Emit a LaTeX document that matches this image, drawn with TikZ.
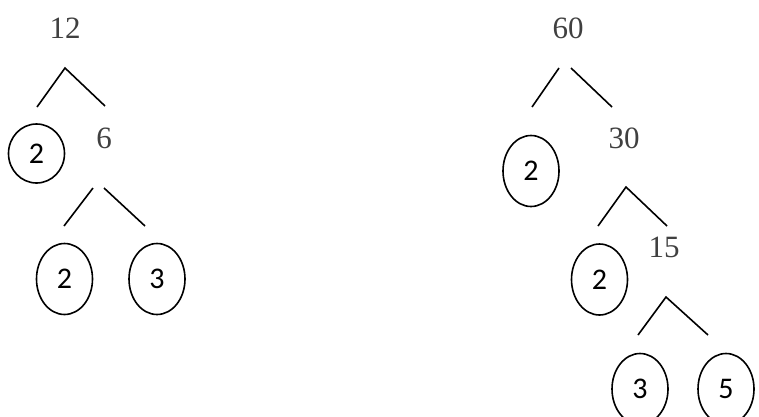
\documentclass[tikz,border=0pt]{standalone}
\usepackage{fontspec}
\usetikzlibrary{shapes.geometric}
\setmainfont{Liberation Serif}
\newfontfamily\circfont{Carlito}
\begin{document}
\begin{tikzpicture}[x=1pt,y=-1pt,
  num/.style={text=black!75, font=\fontsize{31}{34}\selectfont, inner sep=0pt},
  fac/.style={draw, ellipse, line width=1.6pt, minimum width=56pt, minimum height=71pt, inner sep=0pt, font=\circfont\fontsize{30}{34}\selectfont},
  br/.style={line width=1.6pt}]
\useasboundingbox (0,0) rectangle (759,416);
% left tree
\node[num] (n12) at (65,28) {12};
\coordinate (a1) at (65,68);
\coordinate (a1l) at (37,107);
\coordinate (a1r) at (105,106);
\draw[br] (a1l) -- (a1) -- (a1r);
\node[fac, minimum height=59pt] (c1) at (36.5,153.5) {2};
\node[num] (n6) at (104,138) {6};
\coordinate (b1s) at (93,188);
\coordinate (b1l) at (64,226);
\coordinate (b2s) at (104,188);
\coordinate (b2r) at (145,226);
\draw[br] (b1s) -- (b1l);
\draw[br] (b2s) -- (b2r);
\node[fac] (c2) at (64.5,279) {2};
\node[fac] (c3) at (157,279) {3};
% right tree
\node[num] (n60) at (568,28) {60};
\coordinate (d1s) at (559,68);
\coordinate (d1l) at (532,107);
\coordinate (d2s) at (571,68);
\coordinate (d2r) at (612,107);
\draw[br] (d1s) -- (d1l);
\draw[br] (d2s) -- (d2r);
\node[fac] (c4) at (531,171) {2};
\node[num] (n30) at (624,138) {30};
\coordinate (e1) at (626,187);
\coordinate (e1l) at (598,226);
\coordinate (e1r) at (667,226);
\draw[br] (e1l) -- (e1) -- (e1r);
\node[fac] (c5) at (599.5,279.5) {2};
\node[num] (n15) at (664,247) {15};
\coordinate (f1) at (666,297);
\coordinate (f1l) at (638,335);
\coordinate (f1r) at (708,335);
\draw[br] (f1l) -- (f1) -- (f1r);
\node[fac] (c6) at (640,389) {3};
\node[fac] (c7) at (726,389) {5};
\end{tikzpicture}
\end{document}
